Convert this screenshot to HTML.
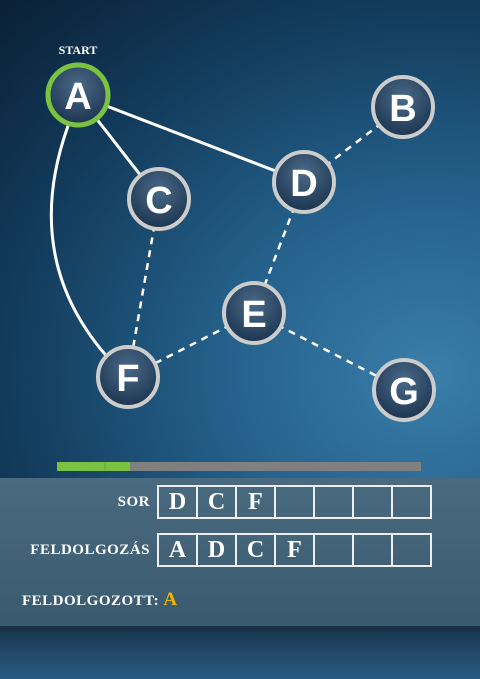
<!DOCTYPE html>
<html><head><style>
body{margin:0;width:480px;height:679px;overflow:hidden;position:relative;font-family:"Liberation Serif",serif;
background:radial-gradient(ellipse at 90% 55%,#3a7eaa 0%,#24608a 35%,#123a5a 70%,#0a2036 100%);}
.panel{position:absolute;left:0;top:478px;width:480px;height:148px;background:linear-gradient(#4a6a80,#3a5a70);border-bottom:6px solid #1a3044}
.bot{position:absolute;left:0;top:632px;width:480px;height:47px;background:linear-gradient(#1a3a55,#2a5a80)}
.lbl{position:absolute;color:#fff;font-weight:bold;font-size:15px;letter-spacing:0.5px;line-height:20px}
.row{position:absolute;left:157px;display:flex;border:2px solid #eee}
.row div{width:37px;height:30px;border-right:2px solid #eee;color:#fff;font-weight:bold;font-size:24px;text-align:center;line-height:31px}
.row div:last-child{border-right:none}
</style></head><body>
<svg width="480" height="480" style="position:absolute;left:0;top:0">
<g stroke="#fff" stroke-width="3" fill="none">
<line x1="78" y1="95" x2="159" y2="199"/>
<line x1="78" y1="95" x2="304" y2="182"/>
<path d="M68 126 Q20 260 110 360"/>
</g>
<g stroke="#fff" stroke-width="2.5" fill="none" stroke-dasharray="7,6">
<line x1="304" y1="182" x2="403" y2="107"/>
<line x1="159" y1="199" x2="128" y2="377"/>
<line x1="304" y1="182" x2="254" y2="313"/>
<line x1="254" y1="313" x2="128" y2="377"/>
<line x1="254" y1="313" x2="404" y2="390"/>
</g>
<defs><radialGradient id="g" cx="50%" cy="35%" r="65%"><stop offset="0" stop-color="#4a6a88"/><stop offset="1" stop-color="#1c3550"/></radialGradient></defs>
<g font-family="Liberation Sans,sans-serif" font-weight="bold" font-size="38" fill="#fff" text-anchor="middle">
<circle cx="78" cy="95" r="30" fill="url(#g)" stroke="#7cc242" stroke-width="5"/><text x="78" y="109">A</text>
<circle cx="403" cy="107" r="30" fill="url(#g)" stroke="#ccc" stroke-width="4"/><text x="403" y="121">B</text>
<circle cx="159" cy="199" r="30" fill="url(#g)" stroke="#ccc" stroke-width="4"/><text x="159" y="213">C</text>
<circle cx="304" cy="182" r="30" fill="url(#g)" stroke="#ccc" stroke-width="4"/><text x="304" y="196">D</text>
<circle cx="254" cy="313" r="30" fill="url(#g)" stroke="#ccc" stroke-width="4"/><text x="254" y="327">E</text>
<circle cx="128" cy="377" r="30" fill="url(#g)" stroke="#ccc" stroke-width="4"/><text x="128" y="391">F</text>
<circle cx="404" cy="390" r="30" fill="url(#g)" stroke="#ccc" stroke-width="4"/><text x="404" y="404">G</text>
</g>
<text x="78" y="54" font-family="Liberation Serif,serif" font-weight="bold" font-size="12" fill="#fff" text-anchor="middle">START</text>
<rect x="57" y="462" width="364" height="9" fill="#808080"/>
<rect x="57" y="462" width="73" height="9" fill="#7cc242"/>
<line x1="105" y1="462" x2="105" y2="471" stroke="#6aa838" stroke-width="1"/>
</svg>
<div class="panel"></div>
<div class="bot"></div>
<div class="lbl" style="right:330px;top:492px">SOR</div>
<div class="row" style="top:485px"><div>D</div><div>C</div><div>F</div><div></div><div></div><div></div><div></div></div>
<div class="lbl" style="right:330px;top:540px">FELDOLGOZÁS</div>
<div class="row" style="top:533px"><div>A</div><div>D</div><div>C</div><div>F</div><div></div><div></div><div></div></div>
<div class="lbl" style="left:22px;top:590px">FELDOLGOZOTT: <span style="color:#f0b400;font-size:19px">A</span></div>
</body></html>
